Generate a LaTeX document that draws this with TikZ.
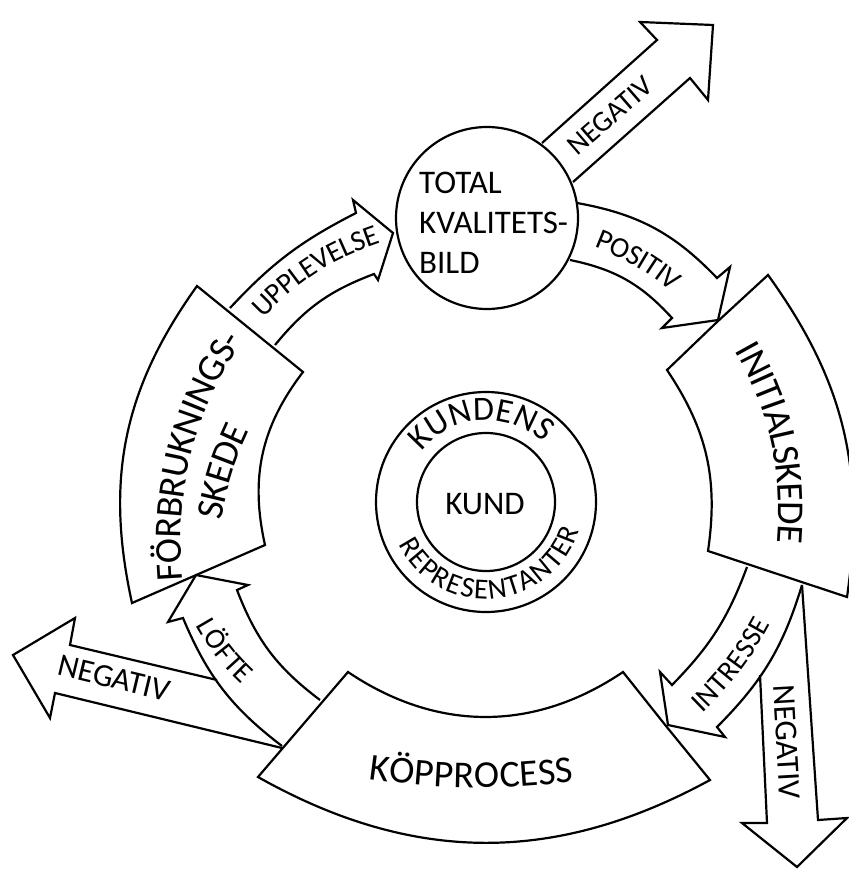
\documentclass[tikz,border=0pt]{standalone}
\usepackage{fontspec}
\setmainfont{Carlito}
\usetikzlibrary{decorations.text}

\newcommand{\fntblock}{\fontsize{38}{42}\selectfont}
\newcommand{\fntarrow}{\fontsize{29}{32}\selectfont}
\newcommand{\fntneg}{\fontsize{32}{36}\selectfont}
\newcommand{\fntcenter}{\fontsize{33}{40}\selectfont}
\newcommand{\fntring}{\fontsize{34}{36}\selectfont}
\newcommand{\fntringsmall}{\fontsize{29}{30}\selectfont}

\begin{document}
\begin{tikzpicture}[x=1pt, y=-1pt,
    outline/.style={line width=2.2pt, line join=miter},
    blocktext/.style={decorate, decoration={text along path, text={|\fntblock|#1}, text align=center, raise=-12.2pt}},
    arrowtext/.style={decorate, decoration={text along path, text={|\fntarrow|#1}, text align=center, raise=-9.3pt}},
    ringtext/.style 2 args={decorate, decoration={text along path, text={|#1|#2}, text align={fit to path}}}
]

    \useasboundingbox (0,0) rectangle (848,869);

    % Total quality circle
    \draw[outline] (487,218) circle[radius=91];
    \node[font=\fntcenter, align=left, anchor=west, inner sep=0pt] (total) at (419,223) {TOTAL\\KVALITETS-\\BILD};

    % Customer rings
    \draw[outline] (486,502) circle[radius=110];
    \draw[outline] (486,502) circle[radius=69];
    \node[font=\fntcenter] (kund) at (485,504) {KUND};
    \path[ringtext={\fntring}{KUNDENS}] (421.4,451.5) arc[start angle=-142, end angle=-46, radius=82];
    \path[ringtext={\fntringsmall}{REPRESENTANTER}] (398.7,544.4) arc[start angle=-205.9, end angle=-343, radius=97];

    % Consumption phase
    \draw[outline] (250,329) -- (303,372) to[bend right=25] (265,545) -- (132,603) to[bend left=24] (197,286) -- cycle;
    \path[blocktext=FÖRBRUKNINGS-] (172,600) to[bend left=20] (243,318);
    \path[blocktext=SKEDE] (206,540) to[bend left=10] (248,406);

    % Initial phase
    \draw[outline] (717,322) -- (768,275) to[bend left=22] (847,597) -- (708,551) to[bend right=21] (667,370) -- cycle;
    \path[blocktext=INITIALSKEDE] (730,319) to[bend left=20] (786,573);

    % Purchase process
    \draw[outline] (666,726) -- (710,780) to[bend left=29] (258,777) -- (348,672) to[bend right=34] (623,672) -- cycle;
    \path[blocktext=KÖPPROCESS] (350,764) to[bend right=8] (593,767);

    % Experience arrow
    \draw[outline] (230,308) to[bend left=10] (356,213) -- (353,200) -- (393,233) -- (378,280) -- (374,274) to[bend right=15] (275,345);
    \path[arrowtext=UPPLEVELSE] (249,320) to[bend left=15] (388,231);

    % Positive arrow
    \draw[outline] (577,203) to[bend left=18] (717,278) -- (730,267) -- (718,320) -- (662,328) -- (672,318) to[bend right=18] (570,260);
    \path[arrowtext=POSITIV] (586,234) to[bend left=10] (687,292);

    % Interest arrow
    \draw[outline] (747,567) to[bend left=12] (672,685) -- (660,672) -- (668,725) -- (725,737) -- (717,727) to[bend right=14] (802,585);
    \path[arrowtext=INTRESSE] (687,715) to[bend right=10] (768,609);

    % Promise arrow
    \draw[outline] (320,700) to[bend left=16] (237,590) -- (248,585) -- (196,575) -- (168,622) -- (183,618) to[bend right=15] (282,746);
    \path[arrowtext=LÖFTE] (199,612) to[bend right=10] (256,685);

    % Negative arrow from the quality picture
    \draw[outline] (542,143) -- (657,40) -- (640,22) -- (713,25) -- (708,100) -- (690,78) -- (573,182);
    \node[font=\fntarrow, rotate=41] (negtop) at (610,116) {NEGATIV};

    % Negative arrow from the initial phase
    \draw[outline] (760,675) -- (767,823) -- (742,823) -- (797,867) -- (847,818) -- (818,820) -- (802,585);
    \node[font=\fntneg, rotate=-86.7] (negright) at (787,742) {NEGATIV};

    % Negative arrow from the purchase process
    \draw[outline] (217,680) -- (70,645) -- (75,618) -- (13,655) -- (50,718) -- (55,693) -- (282,748);
    \node[font=\fntneg, rotate=-13.5] (negleft) at (114,678) {NEGATIV};

\end{tikzpicture}
\end{document}
